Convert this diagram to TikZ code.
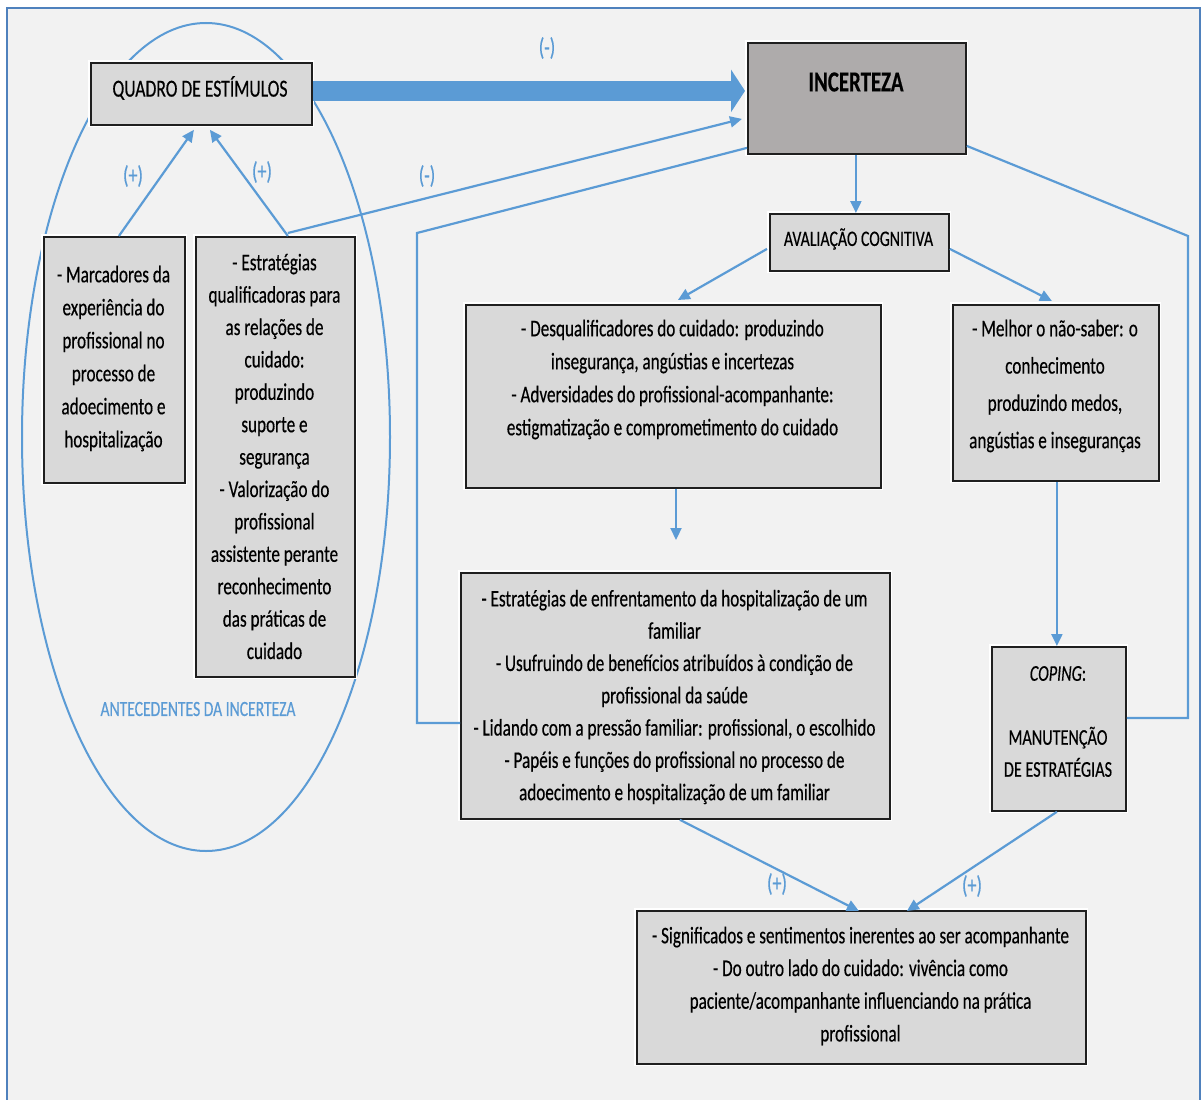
\documentclass[tikz,border=0pt]{standalone}
\usepackage{fontspec}
\setmainfont{Carlito}[FakeStretch=0.72,FakeBold=0.4]
\usetikzlibrary{arrows.meta}
\definecolor{bl}{HTML}{5B9BD5}
\definecolor{frame}{HTML}{4F81BD}
\definecolor{bg}{HTML}{F2F2F2}
\definecolor{boxgray}{HTML}{D9D9D9}
\definecolor{incgray}{HTML}{AEABAB}
\begin{document}
\begin{tikzpicture}[x=1pt,y=-1pt,
  box/.style={draw=black!88, line width=1.8pt, fill=boxgray, inner sep=0pt, anchor=north west,
    preaction={draw=white, line width=5pt}},
  txt/.style={align=center, font=\fontsize{23.8}{33}\selectfont, text=black, inner sep=0pt},
  conn/.style={draw=bl, line width=2.2pt, -{Triangle[length=12pt,width=11pt]}},
  plain/.style={draw=bl, line width=2.2pt},
  lab/.style={text=bl, font=\fontsize{25}{28}\selectfont, inner sep=0pt},
  bigarrow/.style={draw=bl, line width=20pt, -{Triangle[length=14pt,width=42pt]}}
]
\useasboundingbox (0,0) rectangle (1202,1100);
\fill[white] (0,0) rectangle (1202,1100);
\draw[frame, line width=2pt, fill=bg] (7,8) rectangle (1200,1110);

% ellipse of antecedents
\draw[bl, line width=2pt] (206,437) ellipse [x radius=184pt, y radius=414pt];
\node[lab, font=\fontsize{21.7}{25}\selectfont] (ant) at (198,709) {ANTECEDENTES DA INCERTEZA};

% boxes
\node[box, minimum width=221pt, minimum height=62pt] (qbox) at (90,62) {};
\node[txt, font=\fontsize{24.5}{30}\selectfont] (qtxt) at (200,88) {QUADRO DE ESTÍMULOS};

\node[box, fill=incgray, minimum width=218pt, minimum height=111pt] (inc) at (747,42) {};
\node[txt, font=\bfseries\fontsize{29}{34}\selectfont] (inctxt) at (856,82) {INCERTEZA};

\node[box, minimum width=141pt, minimum height=246pt] (marc) at (43,236) {};
\node[txt] (marctxt) at (113.5,358.5) {- Marcadores da\\experiência do\\profissional no\\processo de\\adoecimento e\\hospitalização};

\node[box, minimum width=159pt, minimum height=440pt] (estr) at (195,236) {};
\node[txt, font=\fontsize{23.8}{32.4}\selectfont] (estrtxt) at (274.5,456.5) {- Estratégias\\qualificadoras para\\as relações de\\cuidado:\\produzindo\\suporte e\\segurança\\- Valorização do\\profissional\\assistente perante\\reconhecimento\\das práticas de\\cuidado};

\node[box, minimum width=179pt, minimum height=57pt] (aval) at (769,213) {};
\node[txt, font=\fontsize{22}{26}\selectfont] (avaltxt) at (858.5,239) {AVALIAÇÃO COGNITIVA};

\node[box, minimum width=415pt, minimum height=183pt] (desq) at (465,304) {};
\node[txt] (desqtxt) at (672.5,379.5) {- Desqualificadores do cuidado: produzindo\\insegurança, angústias e incertezas\\- Adversidades do profissional-acompanhante:\\estigmatização e comprometimento do cuidado};

\node[box, minimum width=206pt, minimum height=176pt] (melh) at (952,304) {};
\node[txt, font=\fontsize{23.8}{37.3}\selectfont] (melhtxt) at (1055,386) {- Melhor o não-saber: o\\conhecimento\\produzindo medos,\\angústias e inseguranças};

\node[box, minimum width=429pt, minimum height=246pt] (enfr) at (460,572) {};
\node[txt, font=\fontsize{23.8}{32.3}\selectfont] (enfrtxt) at (674.5,697) {- Estratégias de enfrentamento da hospitalização de um\\familiar\\- Usufruindo de benefícios atribuídos à condição de\\profissional da saúde\\- Lidando com a pressão familiar: profissional, o escolhido\\- Papéis e funções do profissional no processo de\\adoecimento e hospitalização de um familiar};

\node[box, minimum width=134pt, minimum height=164pt] (cop) at (991,646) {};
\node[txt, font=\fontsize{22.5}{32}\selectfont] (coptxt) at (1058,721.5) {\textit{COPING}:\\[32pt]MANUTENÇÃO\\DE ESTRATÉGIAS};

\node[box, minimum width=449pt, minimum height=153pt] (fin) at (636,910) {};
\node[txt, font=\fontsize{23.8}{32.7}\selectfont] (fintxt) at (860.5,986) {- Significados e sentimentos inerentes ao ser acompanhante\\- Do outro lado do cuidado: vivência como\\paciente/acompanhante influenciando na prática\\profissional};

% big arrow
\draw[bigarrow] ([yshift=3pt]qbox.east) -- ([yshift=3pt,xshift=-2pt]qbox.east -| inc.west);
\node[lab] (lm1) at (547,48) {(-)};

% antecedents arrows
\draw[conn] ([xshift=4.5pt]marc.north) -- ([xshift=-7.5pt,yshift=-4pt]qbox.south);
\draw[conn] ([xshift=12.5pt]estr.north) -- ([xshift=8.5pt,yshift=-4pt]qbox.south);
\node[lab] (lp1) at (133,176) {(+)};
\node[lab] (lp2) at (262,172) {(+)};

\draw[conn] ([xshift=12.5pt,yshift=3pt]estr.north) -- ([xshift=-5pt,yshift=-20.5pt]inc.west);
\node[lab] (lm2) at (427,176) {(-)};

% feedback lines
\coordinate (fbl) at (417,233);
\coordinate (enfrin) at ([yshift=-27pt]enfr.west);
\draw[plain] ([yshift=-49.5pt]inc.west) -- (fbl) -- (fbl |- enfrin) -- (enfrin);
\coordinate (fbr) at (1188,236);
\coordinate (copin) at ([yshift=11pt]cop.east);
\draw[plain] ([yshift=-47.5pt]inc.east) -- (fbr) -- (fbr |- copin) -- (copin);

% main flow
\draw[conn] ([xshift=-1pt]inc.south) -- ([xshift=-3.5pt]aval.north);
\draw[conn] ([xshift=-2pt,yshift=-6.5pt]aval.west) -- ([xshift=4.5pt,yshift=4pt]desq.north);
\draw[conn] ([yshift=-6.5pt]aval.east) -- ([xshift=-4pt,yshift=3pt]melh.north);
\coordinate (desqend) at (676,540);
\draw[conn] (desq.south -| desqend) -- (desqend);
\draw[conn] ([xshift=1pt]melh.south) -- ([xshift=1pt]melh.south |- cop.north);
\draw[conn] ([xshift=4.5pt]enfr.south) -- ([xshift=-2.5pt,yshift=-1pt]fin.north);
\draw[conn] ([xshift=-2pt]cop.south) -- ([xshift=45.5pt,yshift=-1pt]fin.north);
\node[lab] (lp3) at (777,884) {(+)};
\node[lab] (lp4) at (972,886) {(+)};
\end{tikzpicture}
\end{document}
